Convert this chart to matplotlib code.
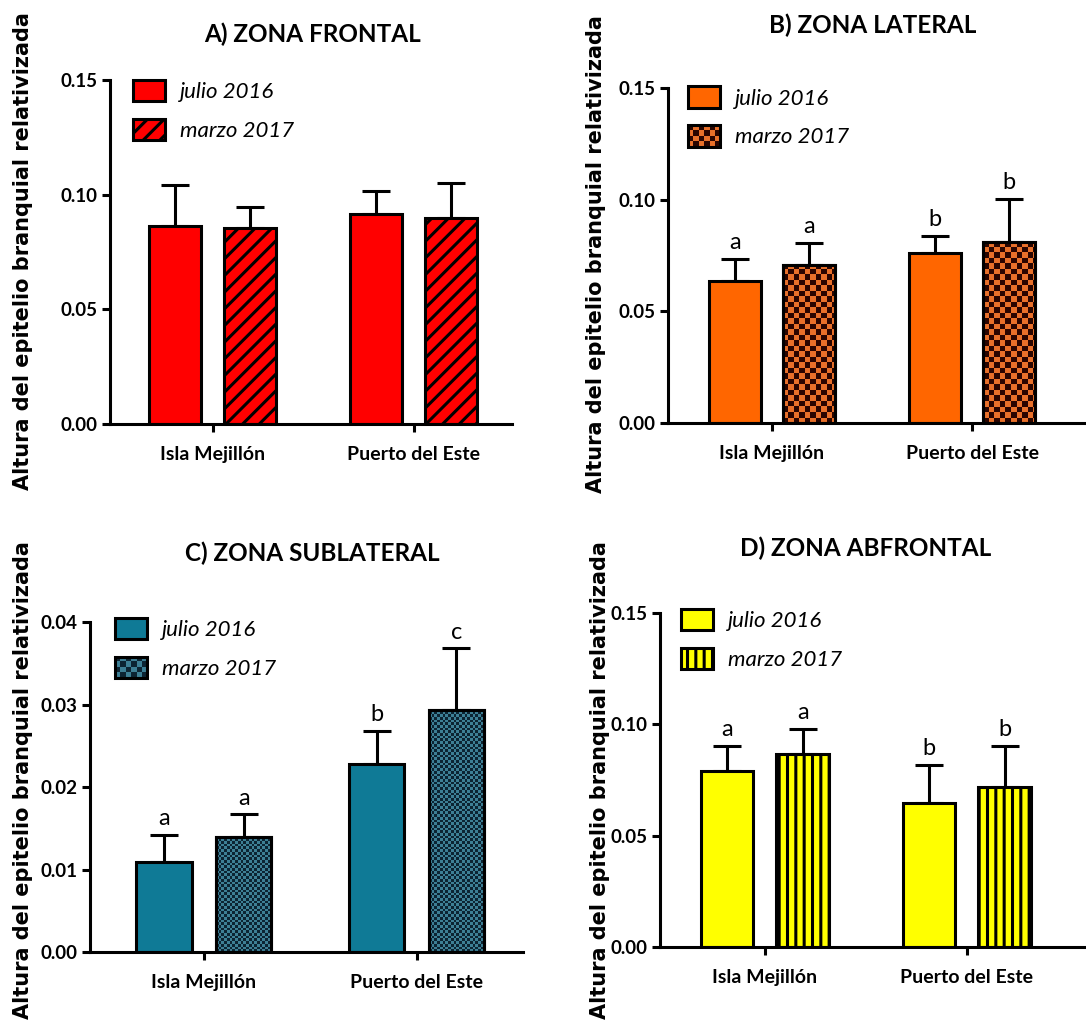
import numpy as np
import matplotlib
matplotlib.use('Agg')
import matplotlib.pyplot as plt
from matplotlib import font_manager
from matplotlib.colors import ListedColormap, Normalize
from matplotlib.patches import Rectangle
from matplotlib.legend_handler import HandlerBase
from matplotlib.image import BboxImage
from matplotlib.transforms import Bbox, TransformedBbox

# data
sites = ['Isla Mejillón', 'Puerto del Este']
series = ['julio 2016', 'marzo 2017']
titles = ['A) ZONA FRONTAL', 'B) ZONA LATERAL', 'C) ZONA SUBLATERAL', 'D) ZONA ABFRONTAL']

frontal_mean = [[0.0863, 0.0915], [0.0855, 0.0898]]
frontal_err = [[0.0179, 0.0101], [0.0091, 0.0153]]
frontal_letters = None

lateral_mean = [[0.0636, 0.0761], [0.0707, 0.0810]]
lateral_err = [[0.0098, 0.0076], [0.0099, 0.0193]]
lateral_letters = [['a', 'b'], ['a', 'b']]

sublat_mean = [[0.0109, 0.0228], [0.0139, 0.0293]]
sublat_err = [[0.0033, 0.0040], [0.0028, 0.0075]]
sublat_letters = [['a', 'b'], ['a', 'c']]

abfront_mean = [[0.0790, 0.0647], [0.0867, 0.0719]]
abfront_err = [[0.0113, 0.0170], [0.0112, 0.0184]]
abfront_letters = [['a', 'b'], ['a', 'b']]

ylabel = 'Altura del epitelio branquial relativizada'

W, H = 1086, 1021
plt.rcParams['hatch.linewidth'] = 2.2
main_font = 'Lato'

# narrow numerals for the y ticks (Calibri-like look) if available
try:
    font_manager.findfont(font_manager.FontProperties(family='Liberation Sans Narrow'),
                          fallback_to_default=False)
    num_font, num_size = 'Liberation Sans Narrow', 15.5
except ValueError:
    num_font, num_size = main_font, 13.5

fig = plt.figure(figsize=(W / 100, H / 100), dpi=100)


def px_axes(x0, x1, ytop, ybot):
    return fig.add_axes([x0 / W, 1 - ybot / H, (x1 - x0) / W, (ybot - ytop) / H])


class CheckerHandler(HandlerBase):
    def __init__(self, cmap, ncells):
        super().__init__()
        self.cmap = cmap
        self.ncells = ncells

    def create_artists(self, legend, orig_handle, xdescent, ydescent,
                       width, height, fontsize, trans):
        bb = TransformedBbox(Bbox.from_bounds(-xdescent, -ydescent, width, height), trans)
        img = BboxImage(bb, cmap=self.cmap, norm=Normalize(0, 1), interpolation='nearest')
        nx, ny = self.ncells
        img.set_data((np.indices((ny, nx)).sum(0) % 2).astype(float))
        rect = Rectangle((-xdescent, -ydescent), width, height, facecolor='none',
                         edgecolor='black', lw=2.2, transform=trans)
        return [img, rect]


def panel(box, xlim, ylim, yticks, mean, err, letters, color, title, title_xy,
          label_xy, leg_anchor, hatch=None, checker=None):
    ax = px_axes(*box)
    x = np.arange(len(sites))
    width = 0.26
    offs = [-0.187, 0.187]
    px_x = (box[1] - box[0]) / (xlim[1] - xlim[0])
    px_y = (box[3] - box[2]) / (ylim[1] - ylim[0])
    handles = []
    for i in range(2):
        bars = ax.bar(x + offs[i], mean[i], width, color=color, edgecolor='black',
                      lw=2.2, zorder=2, hatch=hatch if i == 1 else None,
                      label=series[i])
        if i == 1 and checker is not None:
            cmap, cell = checker
            for b in bars:
                x0, x1 = b.get_x(), b.get_x() + b.get_width()
                h = b.get_height()
                nx = int(np.ceil((x1 - x0) * px_x / cell))
                ny = int(np.ceil(h * px_y / cell))
                grid = (np.indices((ny, nx)).sum(0) % 2).astype(float)
                im = ax.imshow(grid, cmap=cmap, norm=Normalize(0, 1), interpolation='nearest',
                               extent=(x0, x0 + nx * cell / px_x, 0, ny * cell / px_y),
                               origin='lower', aspect='auto', zorder=2.5)
                im.set_clip_path(b)
            ax.bar(x + offs[i], mean[i], width, facecolor='none', edgecolor='black',
                   lw=2.2, zorder=3)
        ax.errorbar(x + offs[i], mean[i], yerr=[np.zeros(2), err[i]], fmt='none',
                    ecolor='black', elinewidth=2.2, capsize=10, capthick=2.2, zorder=1.5)
        handles.append(bars)
        if letters is not None:
            for j in range(2):
                ax.annotate(letters[i][j], (x[j] + offs[i], mean[i][j] + err[i][j]),
                            xytext=(0, 7), textcoords='offset points', ha='center',
                            va='baseline', fontsize=17, family=main_font)
    ax.set_xlim(*xlim)
    ax.set_ylim(*ylim)
    ax.set_yticks(yticks)
    ax.set_yticklabels(['%.2f' % t for t in yticks], fontsize=num_size, fontweight='bold',
                       family=num_font)
    ax.set_xticks(x)
    ax.set_xticklabels(sites, fontsize=14, fontweight='bold', family=main_font)
    for s in ['top', 'right']:
        ax.spines[s].set_visible(False)
    for s in ['left', 'bottom']:
        ax.spines[s].set_linewidth(2.2)
    ax.tick_params(axis='both', width=2.2, length=6, pad=3)
    ax.tick_params(axis='x', pad=10)

    hmap = {}
    if checker is not None:
        hmap[handles[1]] = CheckerHandler(checker[0], (6, 4))
    ax.legend(handles=handles, labels=series, loc='upper left',
              bbox_to_anchor=leg_anchor, frameon=False, borderpad=0,
              borderaxespad=0, handlelength=1.45, handleheight=1.1,
              handletextpad=0.65, labelspacing=0.75, handler_map=hmap,
              prop={'family': main_font, 'style': 'italic', 'size': 16})

    fig.text(title_xy[0] / W, 1 - title_xy[1] / H, title, ha='center', va='center',
             fontsize=17.5, fontweight='bold', family=main_font)
    fig.text(label_xy[0] / W, 1 - label_xy[1] / H, ylabel, rotation=90, ha='center',
             va='center', fontsize=15, fontweight='bold', family='DejaVu Sans')
    return ax


orange_checker = ListedColormap(['#2a0500', '#e8702a'])
teal_checker = ListedColormap(['#0c2433', '#3d7f95'])

panel((110, 512, 80, 424), (-0.51, 1.49), (0, 0.15), [0, 0.05, 0.10, 0.15],
      frontal_mean, frontal_err, frontal_letters, '#ff0000', titles[0],
      (313, 34), (23, 251), (0.057, 1.0), hatch='//')

panel((668, 1086, 88, 423), (-0.52, 1.57), (0, 0.15), [0, 0.05, 0.10, 0.15],
      lateral_mean, lateral_err, lateral_letters, '#ff6600', titles[1],
      (873, 25), (596, 254), (0.048, 1.005), checker=(orange_checker, 5.5))

panel((90, 523, 622, 952), (-0.535, 1.50), (0, 0.04), [0, 0.01, 0.02, 0.03, 0.04],
      sublat_mean, sublat_err, sublat_letters, '#0f7a96', titles[2],
      (312, 553), (23, 780), (0.058, 1.012), checker=(teal_checker, 2.7))

panel((660, 1086, 613, 947), (-0.52, 1.59), (0, 0.15), [0, 0.05, 0.10, 0.15],
      abfront_mean, abfront_err, abfront_letters, '#ffff00', titles[3],
      (866, 548), (600, 780), (0.049, 1.012), hatch='||')

fig.savefig('out.png', dpi=100)
